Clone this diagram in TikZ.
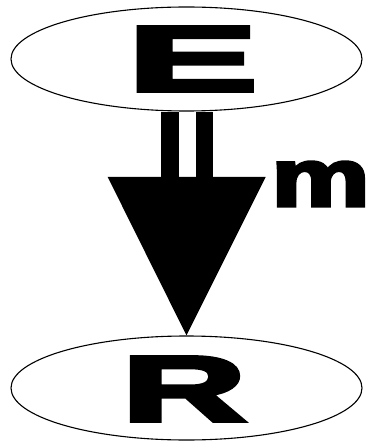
\documentclass[tikz,border=0pt]{standalone}
\usepackage{fontspec}
\newfontfamily\heavy{Liberation Sans Bold}[FakeBold=4]
\tikzset{
  state/.style={draw, line width=1.1pt, ellipse, minimum width=351pt, minimum height=104pt, inner sep=0pt},
  bigletter/.style={inner sep=0pt, font=\heavy\fontsize{93}{93}\selectfont},
  smallletter/.style={inner sep=0pt, font=\heavy\fontsize{82}{82}\selectfont},
  shaft/.style={double, double distance=17pt, line width=17.5pt, line cap=butt},
  head/.style={fill=black, draw=none}
}
\usetikzlibrary{shapes.geometric}
\begin{document}
\begin{tikzpicture}[x=1pt,y=-1pt]
\useasboundingbox (0,0) rectangle (371,443);
\node[state] (E) at (186.5,59) {};
\node[state] (R) at (186.5,388) {};
\node[bigletter] (Et) at (192.5,59) {\scalebox{2.1}[1]{E}};
\node[bigletter] (Rt) at (184,389) {\scalebox{1.85}[1]{R}};
\node[smallletter] (mt) at (320.5,184) {\scalebox{1.35}[1]{m}};
\coordinate (shaftEnd) at (187,177.5);
\coordinate (headL) at (107.7,177);
\coordinate (headR) at (265.7,177);
\draw[shaft] (E.south -| shaftEnd) -- (shaftEnd);
\fill[head] (headL) -- (headR) -- (R.north) -- cycle;
\end{tikzpicture}
\end{document}
